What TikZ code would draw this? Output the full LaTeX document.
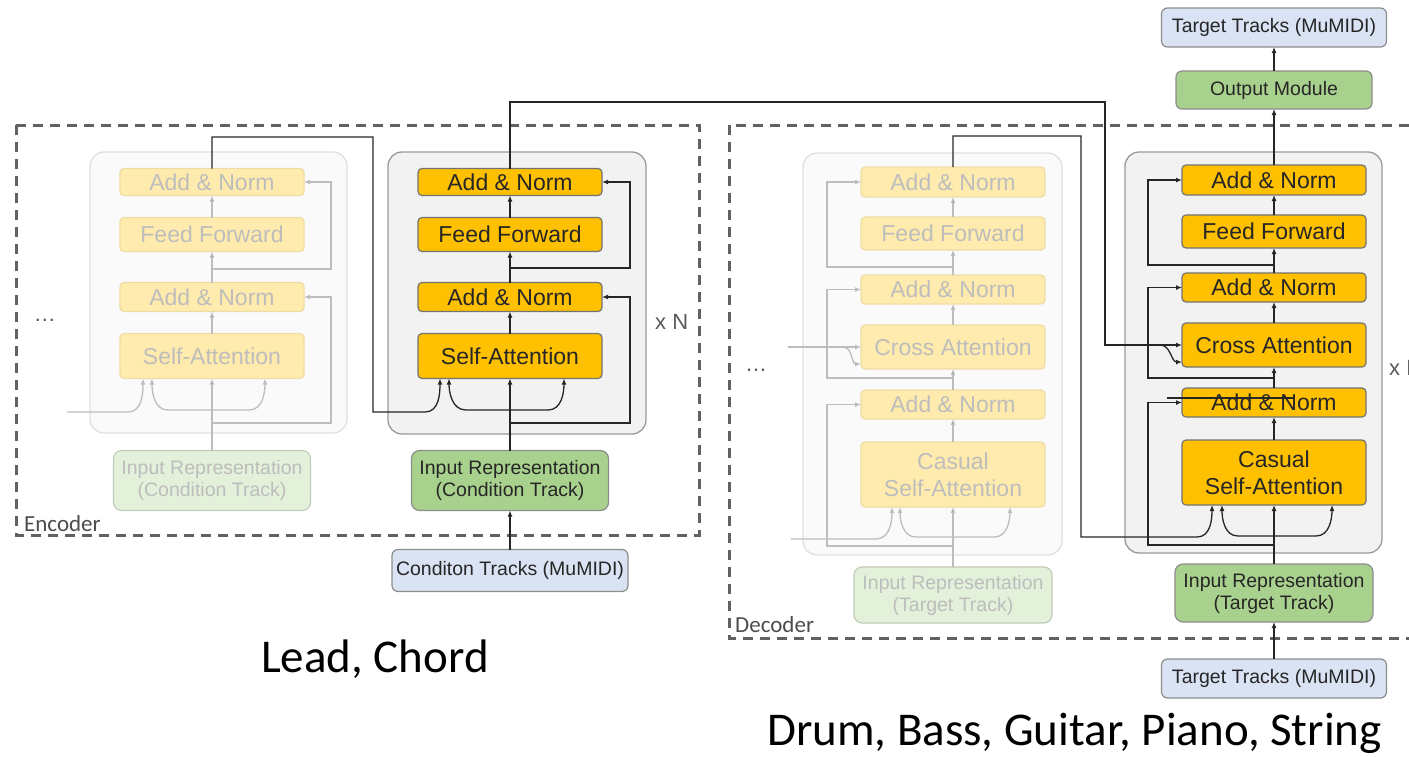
\documentclass[tikz,border=0pt]{standalone}
\usepackage{fontspec}
\setmainfont{Liberation Sans}
\newfontfamily\calfont{Carlito}
\usetikzlibrary{positioning, arrows.meta}

\definecolor{amber}{HTML}{FFC000}
\definecolor{amberf}{HTML}{FFEBAD}
\definecolor{amberd}{HTML}{EEDCA6}
\definecolor{sage}{HTML}{A9D18E}
\definecolor{sagef}{HTML}{E3F0DA}
\definecolor{sky}{HTML}{DAE3F3}
\definecolor{ink}{HTML}{262626}
\definecolor{inkf}{HTML}{BDBDBD}

\tikzset{
	layer/.style={draw=black!55, fill=amber, rounded corners=4pt, line width=1.2pt, minimum width=184pt, minimum height=29pt, inner sep=0pt, outer sep=0pt, text=ink, font=\fontsize{23}{27}\selectfont},
	layerf/.style={layer, draw=amberd, fill=amberf, text=inkf},
	inrep/.style={draw=black!45, fill=sage, rounded corners=8pt, line width=1.2pt, minimum width=197pt, minimum height=60pt, align=center, inner sep=0pt, outer sep=0pt, text=ink, font=\fontsize{19.5}{22}\selectfont},
	inrepf/.style={inrep, draw=sagef!85!black, fill=sagef, text=inkf},
	track/.style={draw=black!45, fill=sky, rounded corners=6pt, line width=1.2pt, minimum width=225pt, minimum height=39pt, inner sep=0pt, outer sep=0pt, text=ink, font=\fontsize{19.5}{22}\selectfont},
	blk/.style={draw=black!40, fill=black!5, rounded corners=14pt, line width=1.3pt},
	blkf/.style={draw=black!12, fill=black!2, rounded corners=14pt, line width=1.3pt},
	arr/.style={draw=ink, line width=1.3pt, -{Latex[length=6pt,width=5pt]}},
	arrf/.style={draw=inkf, line width=1.3pt, -{Latex[length=6pt,width=5pt]}},
	dashbox/.style={draw=black!62, line width=3pt, dash pattern=on 10pt off 7pt},
	lbl/.style={text=black!70, inner sep=0pt, font=\calfont\fontsize{23}{26}\selectfont},
	big/.style={text=black, inner sep=0pt, font=\calfont\fontsize{47}{52}\selectfont},
	rep/.style={text=black!65, inner sep=0pt, font=\fontsize{22}{26}\selectfont},
}

\begin{document}
\begin{tikzpicture}[x=1pt, y=1pt]
	\useasboundingbox (0,0) rectangle (1409,-756);
	\clip (0,0) rectangle (1409,-756);

	% dashed frames and layer blocks
	\draw[dashbox] (16,-125) rectangle (699,-535);
	\draw[dashbox] (729,-125) rectangle (1440,-638);
	\draw[blkf] (90,-152) rectangle (347,-433);
	\draw[blk] (388,-152) rectangle (646,-434);
	\draw[blkf] (803,-153) rectangle (1062,-555);
	\draw[blk] (1125,-152) rectangle (1382,-553);

	% encoder, faded copy
	\node[inrepf] (p1) at (212,-480.5) {Input Representation\\(Condition Track)};
	\node[layerf, above=72pt of p1, minimum height=45pt] (p2) {Self-Attention};
	\node[layerf, above=22pt of p2] (p3) {Add \& Norm};
	\node[layerf, above=31pt of p3, minimum height=34pt] (p4) {Feed Forward};
	\node[layerf, above=22pt of p4, minimum height=27pt] (p5) {Add \& Norm};

	% encoder
	\node[inrep] (e1) at (510,-480.5) {Input Representation\\(Condition Track)};
	\node[track, below=39pt of e1, minimum width=236pt, minimum height=42pt] (e0) {Conditon Tracks (MuMIDI)};
	\node[layer, above=72pt of e1, minimum height=45pt] (e2) {Self-Attention};
	\node[layer, above=22pt of e2] (e3) {Add \& Norm};
	\node[layer, above=31pt of e3, minimum height=34pt] (e4) {Feed Forward};
	\node[layer, above=22pt of e4, minimum height=27pt] (e5) {Add \& Norm};

	% decoder, faded copy
	\node[inrepf, minimum width=198pt, minimum height=56pt] (q1) at (953,-595) {Input Representation\\(Target Track)};
	\node[layerf, above=60pt of q1, minimum height=65pt, align=center] (q2) {Casual\\Self-Attention};
	\node[layerf, above=23pt of q2] (q3) {Add \& Norm};
	\node[layerf, above=21pt of q3, minimum height=44pt] (q4) {Cross Attention};
	\node[layerf, above=21pt of q4] (q5) {Add \& Norm};
	\node[layerf, above=25pt of q5, minimum height=33pt] (q6) {Feed Forward};
	\node[layerf, above=20pt of q6, minimum height=30pt] (q7) {Add \& Norm};

	% decoder
	\node[inrep, minimum width=198pt, minimum height=58pt] (d1) at (1274,-593) {Input Representation\\(Target Track)};
	\node[track, below=37pt of d1] (d0) {Target Tracks (MuMIDI)};
	\node[layer, above=59pt of d1, minimum height=65pt, align=center] (d2) {Casual\\Self-Attention};
	\node[layer, above=23pt of d2] (d3) {Add \& Norm};
	\node[layer, above=21pt of d3, minimum height=44pt] (d4) {Cross Attention};
	\node[layer, above=21pt of d4] (d5) {Add \& Norm};
	\node[layer, above=25pt of d5, minimum height=33pt] (d6) {Feed Forward};
	\node[layer, above=20pt of d6, minimum height=30pt] (d7) {Add \& Norm};
	\node[inrep, above=56pt of d7, minimum width=196pt, minimum height=38pt, rounded corners=6pt] (d8) {Output Module};
	\node[track, above=24pt of d8] (d9) {Target Tracks (MuMIDI)};

	% labels
	\node[rep, anchor=west] (xe) at (655,-322) {x N};
	\node[rep, anchor=west] (xd) at (1389,-368) {x N};
	\node[rep] (de) at (45,-320) {\dots};
	\node[rep] (dd) at (756,-370) {\dots};
	\node[lbl, anchor=base west] (enc) at (24,-531) {Encoder};
	\node[lbl, anchor=base west] (dec) at (735,-632) {Decoder};
	\node[big, anchor=base west] (lc) at (261,-672) {Lead, Chord};
	\node[big, anchor=base west] (ot) at (767,-745) {Drum, Bass, Guitar, Piano, String};

	\coordinate (pr1) at (212,-423);
	\coordinate (pr2) at (212,-269);
	\coordinate (pb) at (212,-410);
	\coordinate (pin) at (67,-412);
	\coordinate (er1) at (510,-423);
	\coordinate (er2) at (510,-268);
	\coordinate (eb) at (510,-410);
	\coordinate (qr1) at (953,-546);
	\coordinate (qr2) at (953,-378);
	\coordinate (qr3) at (953,-267);
	\coordinate (qb) at (953,-537);
	\coordinate (qin) at (791,-539);
	\coordinate (qx0) at (788,-347);
	\coordinate (qx) at (843,-347);
	\coordinate (dr1) at (1274,-545);
	\coordinate (dr2) at (1274,-378);
	\coordinate (dr3) at (1274,-265);
	\coordinate (db) at (1274,-536);
	\coordinate (dx) at (1160,-345);
	\coordinate (s1) at (1167,-398);
	\coordinate (s2) at (1293,-398);

	% faded encoder
	\draw [arrf]
		(p1) edge (p2)
		(p2) edge (p3)
		(p3) edge (p4)
		(p4) edge (p5)
		;
	\draw[arrf] (pr1) -| ([xshift=27pt]p3.east) -- (p3.east);
	\draw[arrf] (pr2) -| ([xshift=27pt]p5.east) -- (p5.east);
	\draw[arrf] (pb) -- ++(-44,0) to[out=180,in=-90] ([xshift=-60pt]p2.south);
	\draw[arrf] (pb) -- ++(37,0) to[out=0,in=-90] ([xshift=53pt]p2.south);
	\draw[arrf] (pin) -- ++(61,0) to[out=0,in=-90] ([xshift=-69pt]p2.south);

	% encoder
	\draw [arr]
		(e0) edge (e1)
		(e1) edge (e2)
		(e2) edge (e3)
		(e3) edge (e4)
		(e4) edge (e5)
		;
	\draw[arr] (er1) -| ([xshift=28pt]e3.east) -- (e3.east);
	\draw[arr] (er2) -| ([xshift=28pt]e5.east) -- (e5.east);
	\draw[arr] (eb) -- ++(-44,0) to[out=180,in=-90] ([xshift=-61pt]e2.south);
	\draw[arr] (eb) -- ++(38,0) to[out=0,in=-90] ([xshift=54pt]e2.south);
	\draw[arr] (p5.north) |- (373,-137) -- (373,-412) -- (425,-412) to[out=0,in=-90] ([xshift=-70pt]e2.south);

	% faded decoder
	\draw [arrf]
		(q1) edge (q2)
		(q2) edge (q3)
		(q3) edge (q4)
		(q4) edge (q5)
		(q5) edge (q6)
		(q6) edge (q7)
		;
	\draw[arrf] (qr1) -| ([xshift=-34pt]q3.west) -- (q3.west);
	\draw[arrf] (qr2) -| ([xshift=-34pt]q5.west) -- (q5.west);
	\draw[arrf] (qr3) -| ([xshift=-34pt]q7.west) -- (q7.west);
	\draw[arrf] (qb) -- ++(-37,0) to[out=180,in=-90] ([xshift=-53pt]q2.south);
	\draw[arrf] (qb) -- ++(41,0) to[out=0,in=-90] ([xshift=57pt]q2.south);
	\draw[arrf] (qin) -- ++(85,0) to[out=0,in=-90] ([xshift=-61pt]q2.south);
	\draw[arrf] (qx0) -- (q4.west);
	\draw[arrf] (qx) to[out=0,in=180] ([yshift=-17pt]q4.west);

	% decoder
	\draw [arr]
		(d0) edge (d1)
		(d1) edge (d2)
		(d2) edge (d3)
		(d3) edge (d4)
		(d4) edge (d5)
		(d5) edge (d6)
		(d6) edge (d7)
		(d7) edge (d8)
		(d8) edge (d9)
		;
	\draw[arr] (dr1) -| ([xshift=-34pt]d3.west) -- (d3.west);
	\draw[arr] (dr2) -| ([xshift=-34pt]d5.west) -- (d5.west);
	\draw[arr] (dr3) -| ([xshift=-34pt]d7.west) -- (d7.west);
	\draw[arr] (db) -- ++(-36,0) to[out=180,in=-90] ([xshift=-52pt]d2.south);
	\draw[arr] (db) -- ++(42,0) to[out=0,in=-90] ([xshift=58pt]d2.south);
	\draw[arr] (q7.north) |- (1081,-136) -- (1081,-537) -- (1197,-537) to[out=0,in=-90] ([xshift=-62pt]d2.south);
	\draw[arr] (e5.north) |- (1105,-102) |- (d4.west);
	\draw[arr] (dx) to[out=0,in=180] ([yshift=-17pt]d4.west);
	\draw[draw=ink, line width=1.3pt] (s1) -- (s2);
\end{tikzpicture}
\end{document}
